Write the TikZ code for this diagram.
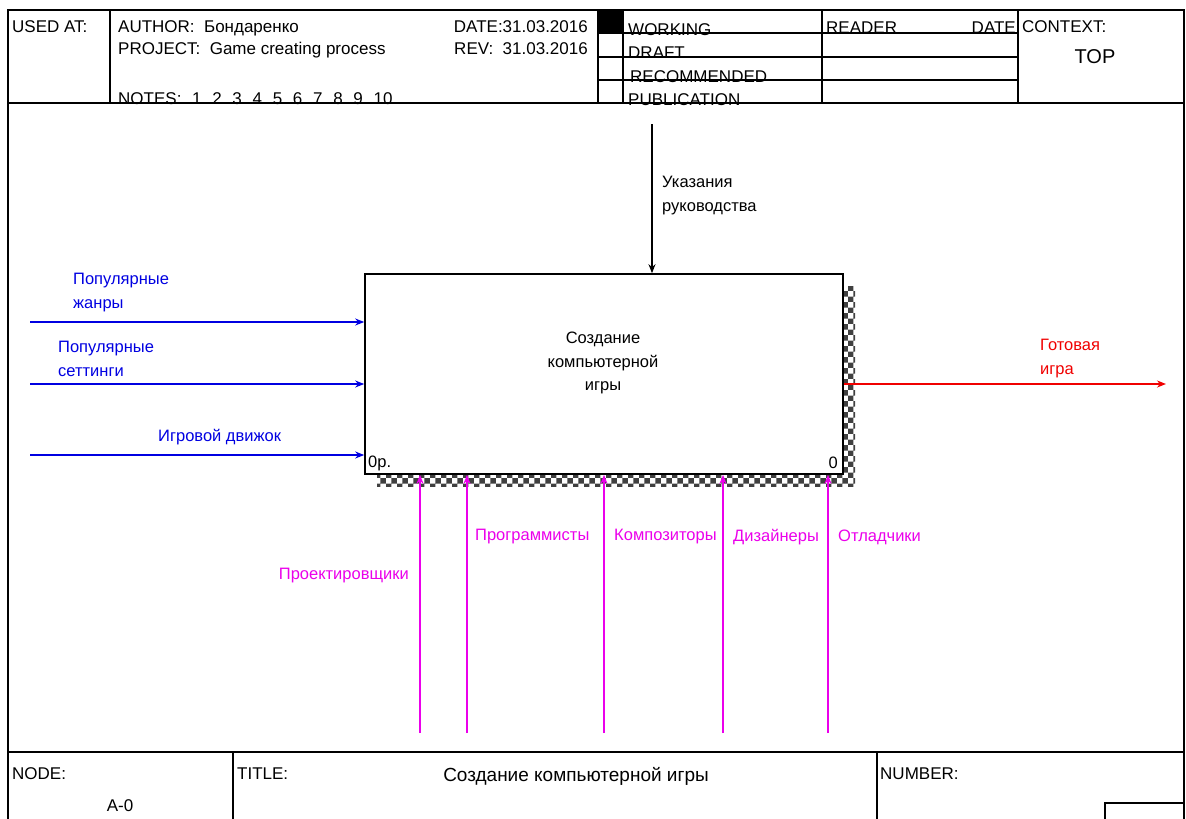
\documentclass[tikz,border=0pt]{standalone}
\usepackage{fontspec}
\setmainfont{Liberation Sans}
\usetikzlibrary{arrows.meta,positioning,patterns,backgrounds}

\definecolor{inblue}{RGB}{0,0,225}
\definecolor{mechpink}{RGB}{235,0,235}
\definecolor{outred}{RGB}{240,0,0}

\tikzset{
  frame/.style={line width=1.5pt},
  hdr/.style={inner sep=0pt,anchor=base west,font=\fontsize{17}{20}\selectfont},
  lbl/.style={inner sep=0pt,align=left,font=\fontsize{16.5}{24}\selectfont},
  arr/.style={line width=2pt,-{Stealth[length=9pt,width=7pt]}},
}
\newcommand{\notegap}{\hspace{10.7pt}}

\begin{document}
\begin{tikzpicture}[x=1pt,y=-1pt]
\useasboundingbox (0,0) rectangle (1186,819);

% Frame and header
\draw[frame] (8,819) -- (8,10) -- (1184,10) -- (1184,819);
\draw[frame] (110,10) -- (110,103);
\draw[frame] (598,10) -- (598,103);
\draw[frame] (623,10) -- (623,103);
\draw[frame] (822,10) -- (822,103);
\draw[frame] (1018,10) -- (1018,103);
\fill (598,10) rectangle (623,33);
\node[hdr] (usedat) at (12,32) {USED AT:};
\node[hdr] (author) at (118,32) {AUTHOR:\ \ Бондаренко};
\node[hdr] (project) at (118,54) {PROJECT:\ \ Game creating process};
\node[hdr,anchor=base east] (date) at (588,32) {DATE:31.03.2016};
\node[hdr,anchor=base east] (rev) at (588,54) {REV:\ \ 31.03.2016};
\node[hdr] (notes) at (118,104) {NOTES:\notegap 1\notegap 2\notegap 3\notegap 4\notegap 5\notegap 6\notegap 7\notegap 8\notegap 9\notegap 10};
\node[hdr] (working) at (628,35) {WORKING};
\node[hdr] (draft) at (628,58) {DRAFT};
\node[hdr] (recom) at (630,82) {RECOMMENDED};
\node[hdr] (publ) at (628,105) {PUBLICATION};
\node[hdr] (reader) at (826,34) {READER};
\node[hdr,anchor=base east] (rdate) at (1016,34) {DATE};
\node[hdr] (context) at (1022,32) {CONTEXT:};
\node[hdr,anchor=center,font=\fontsize{20}{24}\selectfont] (top) at (1095,57) {TOP};
\draw[frame] (598,33) -- (1018,33);
\draw[frame] (598,57) -- (1018,57);
\draw[frame] (598,80) -- (1018,80);
\draw[frame] (8,103) -- (1184,103);

% Footer
\draw[frame] (8,752) -- (1184,752);
\draw[frame] (233,752) -- (233,819);
\draw[frame] (877,752) -- (877,819);
\draw[frame] (1105,819) -- (1105,803) -- (1184,803);
\node[hdr] (nodelbl) at (12,779) {NODE:};
\node[hdr,anchor=center] (nodeno) at (120,806) {A-0};
\node[hdr] (titlelbl) at (237,779) {TITLE:};
\node[hdr,anchor=center,font=\fontsize{19}{22}\selectfont] (title) at (576,776) {Создание компьютерной игры};
\node[hdr] (numlbl) at (880,779) {NUMBER:};

% Activity box
\node[draw,line width=1.6pt,fill=white,minimum width=478pt,minimum height=200pt] (box) at (604,374) {};
\begin{scope}[on background layer]
\fill[pattern=checkerboard,pattern color=black!75] (377,286) rectangle (855,486);
\end{scope}
\node[lbl,align=center,font=\fontsize{16.5}{23.5}\selectfont] (boxtxt) at (603,363) {Создание\\компьютерной\\игры};
\node[lbl,anchor=west] (boxnum) at (368,463) {0р.};
\node[lbl,anchor=east] (boxid) at (838,463) {0};

% Control
\coordinate (ctrlsrc) at (652,124);
\draw[arr] (ctrlsrc) -- (ctrlsrc |- box.north);
\node[lbl,anchor=west] (ctrllbl) at (662,196) {Указания\\руководства};

% Inputs
\coordinate (in1) at (30,322);
\coordinate (in2) at (30,384);
\coordinate (in3) at (30,455);
\draw[arr,inblue] (in1) -- (in1 -| box.west);
\draw[arr,inblue] (in2) -- (in2 -| box.west);
\draw[arr,inblue] (in3) -- (in3 -| box.west);
\node[lbl,anchor=west,text=inblue] (genres) at (73,293) {Популярные\\жанры};
\node[lbl,anchor=west,text=inblue] (settings) at (58,359) {Популярные\\сеттинги};
\node[lbl,anchor=west,text=inblue] (engine) at (158,437) {Игровой движок};

% Output
\coordinate (outend) at (1166,384);
\draw[arr,outred] (outend -| box.east) -- (outend);
\node[lbl,anchor=west,text=outred] (outlbl) at (1040,359) {Готовая\\игра};

% Mechanisms
\foreach \mx/\mn in {420/m1,467/m2,604/m3,723/m4,828/m5}{
  \coordinate (\mn) at (\mx,733);
  \draw[arr,mechpink] (\mn) -- (\mn |- box.south);
}
\node[lbl,anchor=east,text=mechpink] (designers) at (409,576) {Проектировщики};
\node[lbl,anchor=west,text=mechpink] (coders) at (475,537) {Программисты};
\node[lbl,anchor=west,text=mechpink] (composers) at (614,537) {Композиторы};
\node[lbl,anchor=west,text=mechpink] (artists) at (733,537) {Дизайнеры};
\node[lbl,anchor=west,text=mechpink] (testers) at (838,537) {Отладчики};

\end{tikzpicture}
\end{document}
